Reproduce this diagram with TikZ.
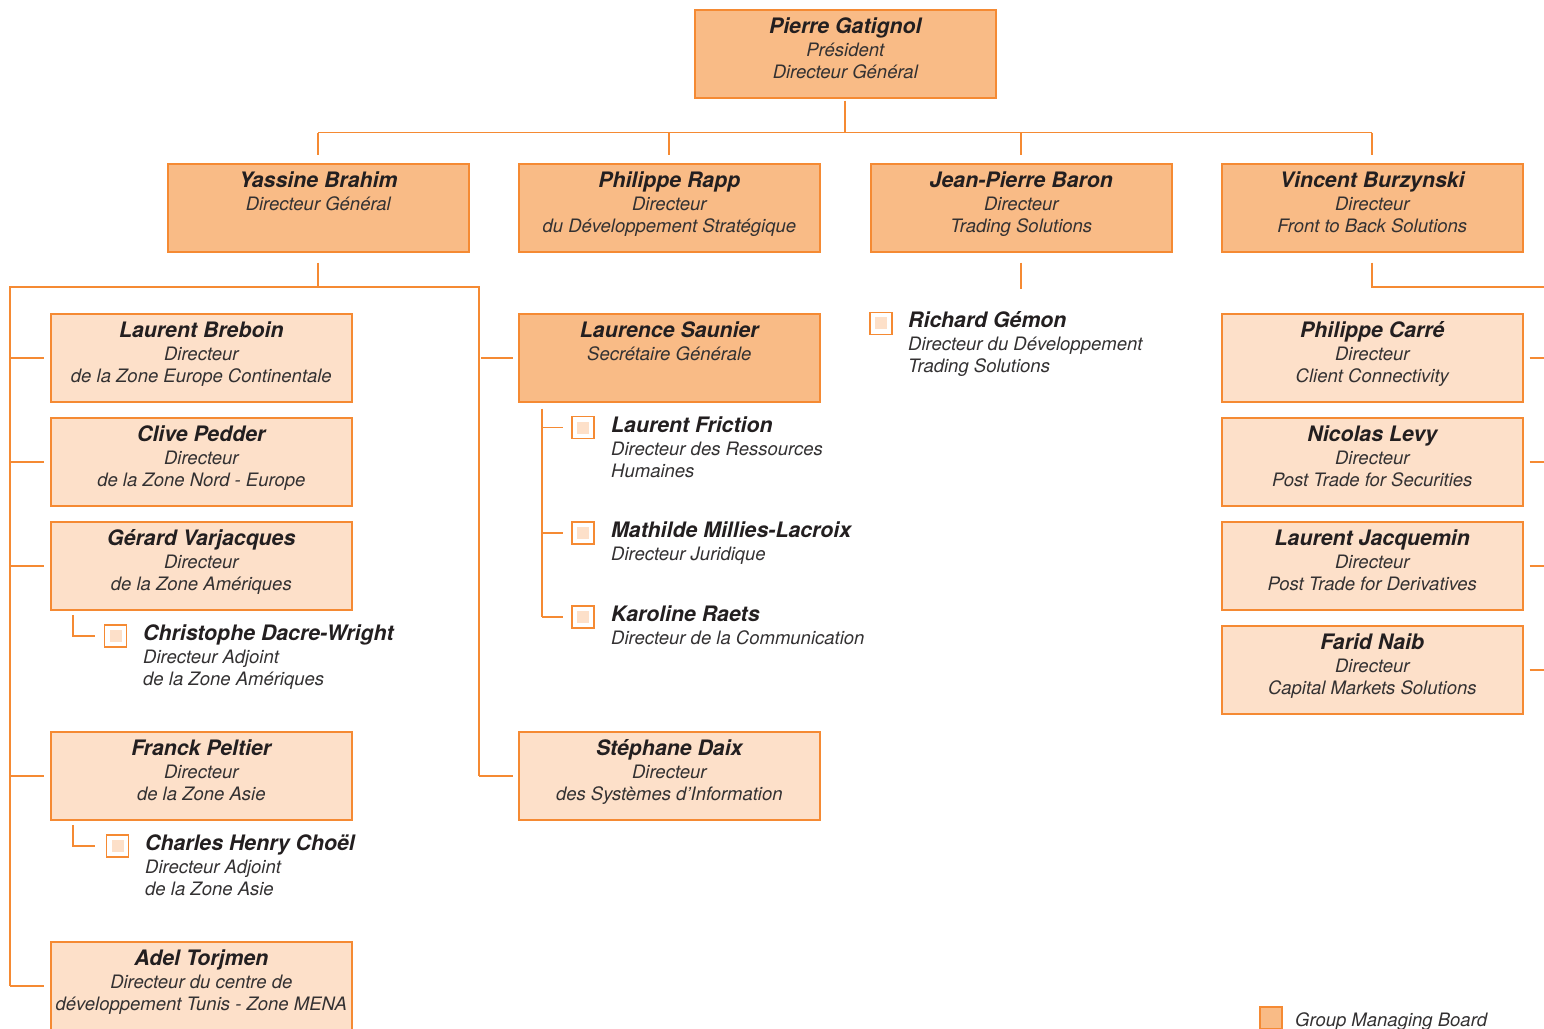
\documentclass[tikz,border=0pt]{standalone}
\usepackage{fontspec}
\setmainfont{TeX Gyre Heros}
\usetikzlibrary{calc}
\definecolor{bord}{HTML}{F58A33}
\definecolor{dfill}{HTML}{F9BB86}
\definecolor{lfill}{HTML}{FDE0C9}
\definecolor{txt}{HTML}{231F20}
\definecolor{stxt}{HTML}{333132}
\tikzset{
  boxbase/.style={draw=bord,line width=1.6pt,minimum width=301pt,minimum height=88pt,inner sep=0pt},
  dbox/.style={boxbase,fill=dfill},
  lbox/.style={boxbase,fill=lfill},
  nm/.style={font=\fontsize{21.3}{24}\selectfont\bfseries\itshape,text=txt,inner sep=0pt},
  sb/.style={font=\fontsize{18.5}{22}\selectfont\itshape,text=stxt,inner sep=0pt},
  ln/.style={draw=bord,line width=1.7pt},
  sqbox/.style={draw=bord,fill=white,line width=1.6pt,minimum size=22pt,inner sep=0pt},
  legsq/.style={draw=bord,fill=dfill,line width=1.6pt,minimum size=22pt,inner sep=0pt}
}
\newcommand\obox[7]{%
  \node[#2,anchor=north west] (#1) at (#3,#4) {};
  \node[nm,anchor=base] (#1n) at ($(#1.north)+(0,24)$) {#5};
  \node[sb,anchor=base] (#1a) at ($(#1.north)+(0,47.3)$) {#6};
  \node[sb,anchor=base] (#1b) at ($(#1.north)+(0,69.3)$) {#7};}
\newcommand\subent[7]{%
  \node[sqbox] (#1) at (#2,#3) {};
  \fill[lfill] ($(#1.center)+(-6,-6)$) rectangle ($(#1.center)+(6,6)$);
  \node[nm,anchor=base west] (#1n) at (#4,#3+4.6) {#5};
  \node[sb,anchor=base west] (#1a) at (#4,#3+27.5) {#6};
  \node[sb,anchor=base west] (#1b) at (#4,#3+49.5) {#7};}
\begin{document}
\begin{tikzpicture}[x=1pt,y=-1pt]
\useasboundingbox (0,0) rectangle (1544,1028);
% top
\obox{pg}{dbox}{694}{9}{Pierre Gatignol}{Président}{Directeur Général}
% level 2
\obox{yb}{dbox}{167}{163}{Yassine Brahim}{Directeur Général}{}
\obox{pr}{dbox}{518}{163}{Philippe Rapp}{Directeur}{du Développement Stratégique}
\obox{jb}{dbox}{870}{163}{Jean-Pierre Baron}{Directeur}{Trading Solutions}
\obox{vb}{dbox}{1221}{163}{Vincent Burzynski}{Directeur}{Front to Back Solutions}
% left column
\obox{lb}{lbox}{50}{313}{Laurent Breboin}{Directeur}{de la Zone Europe Continentale}
\obox{cp}{lbox}{50}{417}{Clive Pedder}{Directeur}{de la Zone Nord - Europe}
\obox{gv}{lbox}{50}{521}{Gérard Varjacques}{Directeur}{de la Zone Amériques}
\obox{fp}{lbox}{50}{731}{Franck Peltier}{Directeur}{de la Zone Asie}
\obox{at}{lbox}{50}{941}{Adel Torjmen}{Directeur du centre de}{développement Tunis - Zone MENA}
\subent{cdw}{115.5}{635.7}{143}{Christophe Dacre-Wright}{Directeur Adjoint}{de la Zone Amériques}
\subent{chc}{117.5}{845.8}{145}{Charles Henry Choël}{Directeur Adjoint}{de la Zone Asie}
% middle column
\obox{ls}{dbox}{518}{313}{Laurence Saunier}{Secrétaire Générale}{}
\obox{sd}{lbox}{518}{731}{Stéphane Daix}{Directeur}{des Systèmes d’Information}
\subent{lf}{583}{427.5}{611}{Laurent Friction}{Directeur des Ressources}{Humaines}
\subent{mm}{583}{533}{611}{Mathilde Millies-Lacroix}{Directeur Juridique}{}
\subent{kr}{583}{616.7}{611}{Karoline Raets}{Directeur de la Communication}{}
% JP Baron column
\subent{rg}{881}{323.3}{908}{Richard Gémon}{Directeur du Développement}{Trading Solutions}
% right column
\obox{pc}{lbox}{1221}{313}{Philippe Carré}{Directeur}{Client Connectivity}
\obox{nl}{lbox}{1221}{417}{Nicolas Levy}{Directeur}{Post Trade for Securities}
\obox{lj}{lbox}{1221}{521}{Laurent Jacquemin}{Directeur}{Post Trade for Derivatives}
\obox{fn}{lbox}{1221}{625}{Farid Naib}{Directeur}{Capital Markets Solutions}
% legend
\node[legsq] (leg) at (1271,1018) {};
\node[sb,anchor=base west] (legt) at (1295,1026) {Group Managing Board};
% connectors: top
\coordinate (bus) at ($(pg.south)+(0,34)$);
\draw[ln] ($(pg.south)+(0,2)$) -- (bus);
\draw[ln] (yb.north |- bus) -- (vb.north |- bus);
\foreach \b in {yb,pr,jb,vb} \draw[ln] (\b.north |- bus) -- ($(\b.north)+(0,-8)$);
% Yassine branch
\coordinate (yL) at (10,287);
\coordinate (yR) at (479.3,287);
\coordinate (yj) at (yb.south |- yL);
\draw[ln] ($(yb.south)+(0,10)$) -- (yj);
\draw[ln] (yL |- at.west) -- (yL) -- (yR) -- (yR |- sd.west);
\foreach \b in {lb,cp,gv,fp,at} \draw[ln] (yL |- \b.west) -- ($(\b.west)+(-6,0)$);
\draw[ln] ($(yR |- ls.west)+(2,0)$) -- ($(ls.west)+(-5,0)$);
\draw[ln] (yR |- sd.west) -- ($(sd.west)+(-5,0)$);
\draw[ln] ($(gv.south west)+(23,4.5)$) |- ($(cdw.west)+(-8.5,0)$);
\draw[ln] ($(fp.south west)+(23,4.5)$) |- ($(chc.west)+(-10.5,0)$);
% Laurence branch
\coordinate (lsv) at ($(ls.south west)+(23.7,6)$);
\draw[ln] (lsv) -- (lsv |- kr.west);
\foreach \s in {lf,mm,kr} \draw[ln] (lsv |- \s.west) -- ($(\s.west)+(-8,0)$);
% JP Baron branch
\draw[ln] ($(jb.south)+(0,10)$) -- ($(jb.south)+(0,36)$);
% Vincent branch
\coordinate (vE) at (1544,287);
\draw[ln] ($(vb.south)+(0,10)$) |- (vE);
\coordinate (rE) at (1544,0);
\foreach \b in {pc,nl,lj,fn} \draw[ln] ($(\b.east)+(6,0)$) -- (rE |- \b.east);
\end{tikzpicture}
\end{document}
